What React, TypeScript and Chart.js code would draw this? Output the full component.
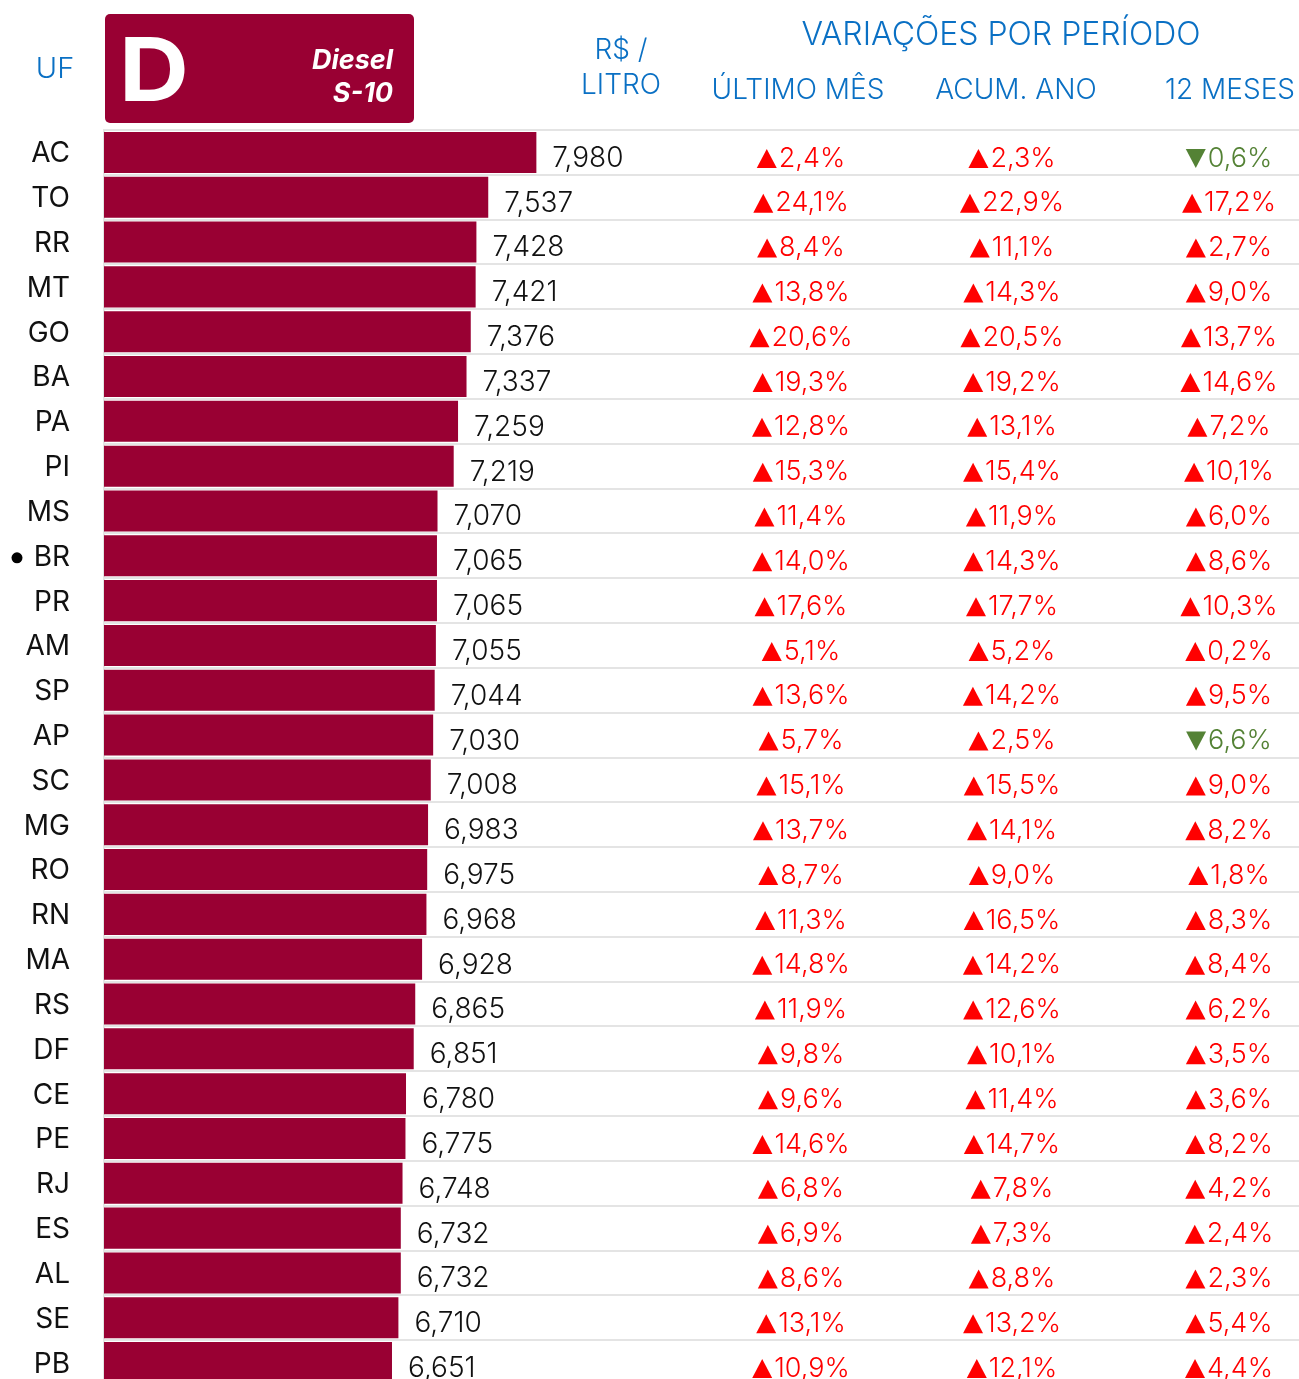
import React, { useEffect, useRef } from "react";
import { Chart, registerables } from "chart.js";

Chart.register(...registerables);

const states = ["AC","TO","RR","MT","GO","BA","PA","PI","MS","BR","PR","AM","SP","AP","SC","MG","RO","RN","MA","RS","DF","CE","PE","RJ","ES","AL","SE","PB"];
const prices = [7.980,7.537,7.428,7.421,7.376,7.337,7.259,7.219,7.070,7.065,7.065,7.055,7.044,7.030,7.008,6.983,6.975,6.968,6.928,6.865,6.851,6.780,6.775,6.748,6.732,6.732,6.710,6.651];
const lastMonth = [2.4,24.1,8.4,13.8,20.6,19.3,12.8,15.3,11.4,14.0,17.6,5.1,13.6,5.7,15.1,13.7,8.7,11.3,14.8,11.9,9.8,9.6,14.6,6.8,6.9,8.6,13.1,10.9];
const yearToDate = [2.3,22.9,11.1,14.3,20.5,19.2,13.1,15.4,11.9,14.3,17.7,5.2,14.2,2.5,15.5,14.1,9.0,16.5,14.2,12.6,10.1,11.4,14.7,7.8,7.3,8.8,13.2,12.1];
const twelveMonths = [-0.6,17.2,2.7,9.0,13.7,14.6,7.2,10.1,6.0,8.6,10.3,0.2,9.5,-6.6,9.0,8.2,1.8,8.3,8.4,6.2,3.5,3.6,8.2,4.2,2.4,2.3,5.4,4.4];
const columnTitles = ["ÚLTIMO MÊS", "ACUM. ANO", "12 MESES"];
const highlightState = "BR";

const FONT = 'Inter, "Noto Sans", sans-serif';
const BLUE = "#0a70c4";
const BAR = "#990033";
const RED = "#ff0000";
const GREEN = "#548235";

const fmtPrice = (v: number) => v.toFixed(3).replace(".", ",");
const fmtPct = (v: number) => Math.abs(v).toFixed(1).replace(".", ",") + "%";

const tablePlugin = {
  id: "tablePlugin",
  afterDraw(chart: any) {
    const ctx = chart.ctx as CanvasRenderingContext2D;
    const xs = chart.scales.x;
    const ys = chart.scales.y;
    ctx.save();

    // Header
    ctx.fillStyle = BLUE;
    ctx.textBaseline = "middle";
    ctx.textAlign = "center";
    ctx.font = `300 29px ${FONT}`;
    ctx.fillText("UF", 55, 69);
    ctx.font = `300 28px ${FONT}`;
    ctx.fillText("R$ /", 621, 51);
    ctx.fillText("LITRO", 621, 86);
    ctx.font = `300 32px ${FONT}`;
    ctx.fillText("VARIAÇÕES POR PERÍODO", 1001, 35);
    const colX = [801, 1012, 1229];
    const titleX = [798, 1016, 1230];
    ctx.font = `300 28px ${FONT}`;
    columnTitles.forEach((t, i) => ctx.fillText(t, titleX[i], 91));

    // Fuel box
    ctx.fillStyle = BAR;
    ctx.beginPath();
    (ctx as any).roundRect(105, 14, 309, 109, 5);
    ctx.fill();
    ctx.fillStyle = "#ffffff";
    ctx.textAlign = "left";
    ctx.textBaseline = "alphabetic";
    ctx.save();
    ctx.translate(119, 101);
    ctx.scale(1.1, 1);
    ctx.font = `bold 88px ${FONT}`;
    ctx.fillText("D", 0, 0);
    ctx.restore();
    ctx.textAlign = "right";
    ctx.font = `italic bold 27px ${FONT}`;
    ctx.fillText("Diesel", 393, 69);
    ctx.fillText("S-10", 393, 102);

    // Highlight bullet
    const bi = states.indexOf(highlightState);
    if (bi >= 0) {
      ctx.fillStyle = "#000000";
      ctx.beginPath();
      ctx.arc(17, ys.getPixelForValue(bi) + 2, 5.5, 0, Math.PI * 2);
      ctx.fill();
    }

    // Value labels
    ctx.textBaseline = "middle";
    ctx.textAlign = "left";
    ctx.font = `300 28px ${FONT}`;
    ctx.fillStyle = "#111111";
    prices.forEach((v, i) => {
      const x = xs.getPixelForValue(v);
      const y = ys.getPixelForValue(i);
      ctx.fillText(fmtPrice(v), x + 16, y + 6);
    });

    // Variation columns
    const cols = [lastMonth, yearToDate, twelveMonths];
    ctx.font = `300 27px ${FONT}`;
    cols.forEach((arr, c) => {
      arr.forEach((v, i) => {
        const y = ys.getPixelForValue(i) + 6;
        const txt = fmtPct(v);
        const tw = ctx.measureText(txt).width;
        const triW = 20, triH = 19, gap = 2;
        const total = triW + gap + tw;
        const left = colX[c] - total / 2;
        const neg = v < 0;
        ctx.fillStyle = neg ? GREEN : RED;
        ctx.beginPath();
        if (neg) {
          ctx.moveTo(left, y - triH / 2);
          ctx.lineTo(left + triW, y - triH / 2);
          ctx.lineTo(left + triW / 2, y + triH / 2);
        } else {
          ctx.moveTo(left, y + triH / 2);
          ctx.lineTo(left + triW, y + triH / 2);
          ctx.lineTo(left + triW / 2, y - triH / 2);
        }
        ctx.closePath();
        ctx.fill();
        ctx.fillText(txt, left + triW + gap, y);
      });
    });
    ctx.restore();
  },
};

export default function App() {
  const ref = useRef<HTMLCanvasElement | null>(null);
  useEffect(() => {
    document.body.style.margin = "0";
    const canvas = ref.current!;
    const chart = new Chart(canvas, {
      type: "bar",
      data: {
        labels: states,
        datasets: [
          {
            data: prices,
            backgroundColor: BAR,
            borderWidth: 0,
            barPercentage: 0.915,
            categoryPercentage: 1,
          },
        ],
      },
      options: {
        indexAxis: "y",
        animation: false,
        responsive: false,
        devicePixelRatio: 1,
        layout: { padding: { top: 130, left: 0, right: 0, bottom: 0 } },
        plugins: {
          legend: { display: false },
          tooltip: { enabled: false },
        },
        scales: {
          x: {
            display: false,
            min: 4,
            max: 15,
          },
          y: {
            afterFit: (scale: any) => {
              scale.width = 104;
              scale.paddingTop = 0;
              scale.paddingBottom = 0;
            },
            grid: {
              color: "#e4e4e4",
              lineWidth: 2,
              drawTicks: false,
              offset: true,
            },
            border: { display: true, color: "#e4e4e4", width: 2 },
            ticks: {
              autoSkip: false,
              padding: 34,
              labelOffset: 1.5,
              color: "#111111",
              font: { family: "Inter", size: 28, weight: "normal" },
            },
          },
        },
      },
      plugins: [tablePlugin],
    });
    return () => chart.destroy();
  }, []);
  return (
    <div style={{ width: 1299, height: 1379, overflow: "hidden", background: "#fff" }}>
      <canvas ref={ref} width={1299} height={1385} style={{ display: "block" }} />
    </div>
  );
}
